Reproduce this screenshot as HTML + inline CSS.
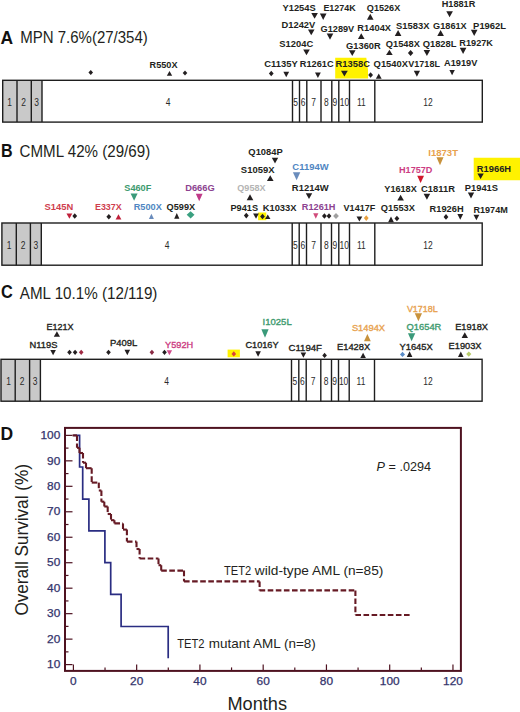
<!DOCTYPE html>
<html><head><meta charset="utf-8"><style>
html,body{margin:0;padding:0;background:#fff;}
body{width:520px;height:712px;overflow:hidden;}
svg{display:block;font-family:"Liberation Sans",sans-serif;}
.lb{font-size:9px;font-weight:bold;stroke-width:0;}
.lc{font-size:9px;stroke-width:0.35px;}
.ex{font-size:10.6px;fill:#2a2a2a;}
.tk{font-size:10.4px;fill:#34346c;stroke:#34346c;stroke-width:0.25px;}
.ttl{font-size:15.3px;fill:#231f20;}
.pl{font-size:17.5px;font-weight:bold;fill:#111;}
.cl{font-size:13.6px;fill:#231f20;}
</style></head><body>
<svg width="520" height="712" viewBox="0 0 520 712">
<rect x="0" y="0" width="520" height="712" fill="#fff"/>
<polygon points="335.2,57.8 366.3,57.8 368,70 368,78.5 335.2,78.5" fill="#fff200"/><polygon points="473.7,157.8 520,157.8 520,180.2 473.7,180.2" fill="#fff200"/><polygon points="258.1,212.5 266.3,212.5 266.3,220.2 258.1,220.2" fill="#fff200"/><polygon points="227.6,349.6 239.9,349.6 239.9,357.3 227.6,357.3" fill="#fff200"/>
<text x="0.6" y="43.5" class="pl" textLength="12.6" lengthAdjust="spacingAndGlyphs">A</text>
<text x="20.2" y="43.2" class="ttl" style="font-size:16.3px" textLength="127.6" lengthAdjust="spacingAndGlyphs">MPN 7.6%(27/354)</text>
<text x="1" y="156.5" class="pl" textLength="11.6" lengthAdjust="spacingAndGlyphs">B</text>
<text x="19.6" y="156.7" class="ttl" style="font-size:16.3px" textLength="130.6" lengthAdjust="spacingAndGlyphs">CMML 42% (29/69)</text>
<text x="1" y="298.3" class="pl" textLength="11.8" lengthAdjust="spacingAndGlyphs">C</text>
<text x="19.8" y="298.8" class="ttl" style="font-size:15.9px" textLength="137.6" lengthAdjust="spacingAndGlyphs">AML 10.1% (12/119)</text>
<rect x="2.7" y="80.3" width="39.3" height="41.8" fill="#c9c9c9"/>
<rect x="2.7" y="80.3" width="479.6" height="41.8" fill="none" stroke="#1e1e1e" stroke-width="1.4"/>
<line x1="17.0" y1="80.3" x2="17.0" y2="122.1" stroke="#1e1e1e" stroke-width="1.4"/>
<line x1="31.3" y1="80.3" x2="31.3" y2="122.1" stroke="#1e1e1e" stroke-width="1.4"/>
<line x1="42.0" y1="80.3" x2="42.0" y2="122.1" stroke="#1e1e1e" stroke-width="1.4"/>
<line x1="292.5" y1="80.3" x2="292.5" y2="122.1" stroke="#1e1e1e" stroke-width="1.4"/>
<line x1="299.5" y1="80.3" x2="299.5" y2="122.1" stroke="#1e1e1e" stroke-width="1.4"/>
<line x1="306.8" y1="80.3" x2="306.8" y2="122.1" stroke="#1e1e1e" stroke-width="1.4"/>
<line x1="321.0" y1="80.3" x2="321.0" y2="122.1" stroke="#1e1e1e" stroke-width="1.4"/>
<line x1="331.8" y1="80.3" x2="331.8" y2="122.1" stroke="#1e1e1e" stroke-width="1.4"/>
<line x1="338.8" y1="80.3" x2="338.8" y2="122.1" stroke="#1e1e1e" stroke-width="1.4"/>
<line x1="349.5" y1="80.3" x2="349.5" y2="122.1" stroke="#1e1e1e" stroke-width="1.4"/>
<line x1="374.8" y1="80.3" x2="374.8" y2="122.1" stroke="#1e1e1e" stroke-width="1.4"/>
<text transform="translate(9.6,106.0) scale(0.8,1)" text-anchor="middle" class="ex">1</text>
<text transform="translate(23.6,106.0) scale(0.8,1)" text-anchor="middle" class="ex">2</text>
<text transform="translate(36.5,106.0) scale(0.8,1)" text-anchor="middle" class="ex">3</text>
<text transform="translate(168.0,106.0) scale(0.8,1)" text-anchor="middle" class="ex">4</text>
<text transform="translate(295.6,106.0) scale(0.8,1)" text-anchor="middle" class="ex">5</text>
<text transform="translate(303.0,106.0) scale(0.8,1)" text-anchor="middle" class="ex">6</text>
<text transform="translate(313.6,106.0) scale(0.8,1)" text-anchor="middle" class="ex">7</text>
<text transform="translate(326.4,106.0) scale(0.8,1)" text-anchor="middle" class="ex">8</text>
<text transform="translate(334.9,106.0) scale(0.8,1)" text-anchor="middle" class="ex">9</text>
<text transform="translate(344.4,106.0) scale(0.8,1)" text-anchor="middle" class="ex">10</text>
<text transform="translate(361.4,106.0) scale(0.8,1)" text-anchor="middle" class="ex">11</text>
<text transform="translate(428.0,106.0) scale(0.8,1)" text-anchor="middle" class="ex">12</text>
<rect x="1.9" y="223.0" width="39.4" height="42.19999999999999" fill="#c9c9c9"/>
<rect x="1.9" y="223.0" width="480.3" height="42.19999999999999" fill="none" stroke="#1e1e1e" stroke-width="1.4"/>
<line x1="16.3" y1="223.0" x2="16.3" y2="265.2" stroke="#1e1e1e" stroke-width="1.4"/>
<line x1="30.4" y1="223.0" x2="30.4" y2="265.2" stroke="#1e1e1e" stroke-width="1.4"/>
<line x1="41.3" y1="223.0" x2="41.3" y2="265.2" stroke="#1e1e1e" stroke-width="1.4"/>
<line x1="292.2" y1="223.0" x2="292.2" y2="265.2" stroke="#1e1e1e" stroke-width="1.4"/>
<line x1="299.2" y1="223.0" x2="299.2" y2="265.2" stroke="#1e1e1e" stroke-width="1.4"/>
<line x1="306.5" y1="223.0" x2="306.5" y2="265.2" stroke="#1e1e1e" stroke-width="1.4"/>
<line x1="321.0" y1="223.0" x2="321.0" y2="265.2" stroke="#1e1e1e" stroke-width="1.4"/>
<line x1="331.5" y1="223.0" x2="331.5" y2="265.2" stroke="#1e1e1e" stroke-width="1.4"/>
<line x1="338.8" y1="223.0" x2="338.8" y2="265.2" stroke="#1e1e1e" stroke-width="1.4"/>
<line x1="349.5" y1="223.0" x2="349.5" y2="265.2" stroke="#1e1e1e" stroke-width="1.4"/>
<line x1="374.8" y1="223.0" x2="374.8" y2="265.2" stroke="#1e1e1e" stroke-width="1.4"/>
<text transform="translate(9.1,248.8) scale(0.8,1)" text-anchor="middle" class="ex">1</text>
<text transform="translate(23.1,248.8) scale(0.8,1)" text-anchor="middle" class="ex">2</text>
<text transform="translate(35.8,248.8) scale(0.8,1)" text-anchor="middle" class="ex">3</text>
<text transform="translate(167.0,248.8) scale(0.8,1)" text-anchor="middle" class="ex">4</text>
<text transform="translate(295.4,248.8) scale(0.8,1)" text-anchor="middle" class="ex">5</text>
<text transform="translate(302.8,248.8) scale(0.8,1)" text-anchor="middle" class="ex">6</text>
<text transform="translate(313.5,248.8) scale(0.8,1)" text-anchor="middle" class="ex">7</text>
<text transform="translate(326.3,248.8) scale(0.8,1)" text-anchor="middle" class="ex">8</text>
<text transform="translate(334.8,248.8) scale(0.8,1)" text-anchor="middle" class="ex">9</text>
<text transform="translate(344.3,248.8) scale(0.8,1)" text-anchor="middle" class="ex">10</text>
<text transform="translate(361.3,248.8) scale(0.8,1)" text-anchor="middle" class="ex">11</text>
<text transform="translate(428.0,248.8) scale(0.8,1)" text-anchor="middle" class="ex">12</text>
<rect x="1.0" y="359.3" width="39.4" height="41.89999999999998" fill="#c9c9c9"/>
<rect x="1.0" y="359.3" width="481.1" height="41.89999999999998" fill="none" stroke="#1e1e1e" stroke-width="1.4"/>
<line x1="15.2" y1="359.3" x2="15.2" y2="401.2" stroke="#1e1e1e" stroke-width="1.4"/>
<line x1="29.6" y1="359.3" x2="29.6" y2="401.2" stroke="#1e1e1e" stroke-width="1.4"/>
<line x1="40.4" y1="359.3" x2="40.4" y2="401.2" stroke="#1e1e1e" stroke-width="1.4"/>
<line x1="291.5" y1="359.3" x2="291.5" y2="401.2" stroke="#1e1e1e" stroke-width="1.4"/>
<line x1="298.8" y1="359.3" x2="298.8" y2="401.2" stroke="#1e1e1e" stroke-width="1.4"/>
<line x1="306.2" y1="359.3" x2="306.2" y2="401.2" stroke="#1e1e1e" stroke-width="1.4"/>
<line x1="320.8" y1="359.3" x2="320.8" y2="401.2" stroke="#1e1e1e" stroke-width="1.4"/>
<line x1="331.5" y1="359.3" x2="331.5" y2="401.2" stroke="#1e1e1e" stroke-width="1.4"/>
<line x1="338.5" y1="359.3" x2="338.5" y2="401.2" stroke="#1e1e1e" stroke-width="1.4"/>
<line x1="349.2" y1="359.3" x2="349.2" y2="401.2" stroke="#1e1e1e" stroke-width="1.4"/>
<line x1="374.5" y1="359.3" x2="374.5" y2="401.2" stroke="#1e1e1e" stroke-width="1.4"/>
<text transform="translate(8.5,384.9) scale(0.8,1)" text-anchor="middle" class="ex">1</text>
<text transform="translate(22.1,384.9) scale(0.8,1)" text-anchor="middle" class="ex">2</text>
<text transform="translate(35.1,384.9) scale(0.8,1)" text-anchor="middle" class="ex">3</text>
<text transform="translate(166.5,384.9) scale(0.8,1)" text-anchor="middle" class="ex">4</text>
<text transform="translate(294.8,384.9) scale(0.8,1)" text-anchor="middle" class="ex">5</text>
<text transform="translate(302.3,384.9) scale(0.8,1)" text-anchor="middle" class="ex">6</text>
<text transform="translate(313.2,384.9) scale(0.8,1)" text-anchor="middle" class="ex">7</text>
<text transform="translate(326.1,384.9) scale(0.8,1)" text-anchor="middle" class="ex">8</text>
<text transform="translate(334.6,384.9) scale(0.8,1)" text-anchor="middle" class="ex">9</text>
<text transform="translate(343.6,384.9) scale(0.8,1)" text-anchor="middle" class="ex">10</text>
<text transform="translate(361.0,384.9) scale(0.8,1)" text-anchor="middle" class="ex">11</text>
<text transform="translate(428.0,384.9) scale(0.8,1)" text-anchor="middle" class="ex">12</text>
<text x="441.70" y="7.30" fill="#231f20" stroke="#231f20" class="lb" textLength="33.60" lengthAdjust="spacingAndGlyphs">H1881R</text>
<text x="282.50" y="10.60" fill="#231f20" stroke="#231f20" class="lb" textLength="33.20" lengthAdjust="spacingAndGlyphs">Y1254S</text>
<text x="323.40" y="10.60" fill="#231f20" stroke="#231f20" class="lb" textLength="32.30" lengthAdjust="spacingAndGlyphs">E1274K</text>
<text x="366.85" y="10.60" fill="#231f20" stroke="#231f20" class="lb" textLength="33.40" lengthAdjust="spacingAndGlyphs">Q1526X</text>
<text x="281.50" y="27.50" fill="#231f20" stroke="#231f20" class="lb" textLength="33.75" lengthAdjust="spacingAndGlyphs">D1242V</text>
<text x="320.60" y="31.50" fill="#231f20" stroke="#231f20" class="lb" textLength="33.65" lengthAdjust="spacingAndGlyphs">G1289V</text>
<text x="357.35" y="30.50" fill="#231f20" stroke="#231f20" class="lb" textLength="33.75" lengthAdjust="spacingAndGlyphs">R1404X</text>
<text x="396.10" y="28.75" fill="#231f20" stroke="#231f20" class="lb" textLength="33.40" lengthAdjust="spacingAndGlyphs">S1583X</text>
<text x="433.10" y="28.75" fill="#231f20" stroke="#231f20" class="lb" textLength="33.60" lengthAdjust="spacingAndGlyphs">G1861X</text>
<text x="473.10" y="28.80" fill="#231f20" stroke="#231f20" class="lb" textLength="33.00" lengthAdjust="spacingAndGlyphs">P1962L</text>
<text x="279.35" y="46.90" fill="#231f20" stroke="#231f20" class="lb" textLength="33.90" lengthAdjust="spacingAndGlyphs">S1204C</text>
<text x="346.10" y="48.75" fill="#231f20" stroke="#231f20" class="lb" textLength="34.65" lengthAdjust="spacingAndGlyphs">G1360R</text>
<text x="385.85" y="46.60" fill="#231f20" stroke="#231f20" class="lb" textLength="34.00" lengthAdjust="spacingAndGlyphs">Q1548X</text>
<text x="422.70" y="46.60" fill="#231f20" stroke="#231f20" class="lb" textLength="33.80" lengthAdjust="spacingAndGlyphs">Q1828L</text>
<text x="459.35" y="46.25" fill="#231f20" stroke="#231f20" class="lb" textLength="33.65" lengthAdjust="spacingAndGlyphs">R1927K</text>
<text x="264.35" y="66.90" fill="#231f20" stroke="#231f20" class="lb" textLength="33.40" lengthAdjust="spacingAndGlyphs">C1135Y</text>
<text x="299.85" y="66.90" fill="#231f20" stroke="#231f20" class="lb" textLength="33.75" lengthAdjust="spacingAndGlyphs">R1261C</text>
<text x="335.60" y="67.00" fill="#231f20" stroke="#231f20" class="lb" textLength="34.30" lengthAdjust="spacingAndGlyphs">R1358C</text>
<text x="373.60" y="67.00" fill="#231f20" stroke="#231f20" class="lb" textLength="34.40" lengthAdjust="spacingAndGlyphs">Q1540X</text>
<text x="408.35" y="66.90" fill="#231f20" stroke="#231f20" class="lb" textLength="31.55" lengthAdjust="spacingAndGlyphs">V1718L</text>
<text x="444.00" y="66.25" fill="#231f20" stroke="#231f20" class="lb" textLength="33.40" lengthAdjust="spacingAndGlyphs">A1919V</text>
<text x="149.60" y="68.00" fill="#231f20" stroke="#231f20" class="lb" textLength="27.90" lengthAdjust="spacingAndGlyphs">R550X</text>
<text x="248.35" y="155.00" fill="#231f20" stroke="#231f20" class="lb" textLength="34.40" lengthAdjust="spacingAndGlyphs">Q1084P</text>
<text x="428.35" y="156.00" fill="#e8a24e" stroke="#e8a24e" class="lb" textLength="29.65" lengthAdjust="spacingAndGlyphs">I1873T</text>
<text x="292.35" y="170.00" fill="#4f86c2" stroke="#4f86c2" class="lb" textLength="36.25" lengthAdjust="spacingAndGlyphs">C1194W</text>
<text x="240.85" y="172.75" fill="#231f20" stroke="#231f20" class="lb" textLength="33.65" lengthAdjust="spacingAndGlyphs">S1059X</text>
<text x="476.85" y="172.25" fill="#231f20" stroke="#231f20" class="lb" textLength="34.25" lengthAdjust="spacingAndGlyphs">R1966H</text>
<text x="399.00" y="173.10" fill="#cc3c82" stroke="#cc3c82" class="lb" textLength="33.40" lengthAdjust="spacingAndGlyphs">H1757D</text>
<text x="124.30" y="190.50" fill="#3d9a6e" stroke="#3d9a6e" class="lb" textLength="27.00" lengthAdjust="spacingAndGlyphs">S460F</text>
<text x="185.20" y="191.40" fill="#8c4290" stroke="#8c4290" class="lb" textLength="29.50" lengthAdjust="spacingAndGlyphs">D666G</text>
<text x="237.35" y="191.25" fill="#b4b4b4" stroke="#b4b4b4" class="lb" textLength="28.15" lengthAdjust="spacingAndGlyphs">Q958X</text>
<text x="291.85" y="191.00" fill="#231f20" stroke="#231f20" class="lb" textLength="36.75" lengthAdjust="spacingAndGlyphs">R1214W</text>
<text x="384.35" y="191.90" fill="#231f20" stroke="#231f20" class="lb" textLength="32.40" lengthAdjust="spacingAndGlyphs">Y1618X</text>
<text x="421.10" y="191.50" fill="#231f20" stroke="#231f20" class="lb" textLength="33.80" lengthAdjust="spacingAndGlyphs">C1811R</text>
<text x="464.80" y="191.30" fill="#231f20" stroke="#231f20" class="lb" textLength="33.20" lengthAdjust="spacingAndGlyphs">P1941S</text>
<text x="44.60" y="210.00" fill="#cf3e4e" stroke="#cf3e4e" class="lb" textLength="28.65" lengthAdjust="spacingAndGlyphs">S145N</text>
<text x="95.00" y="209.70" fill="#cf3e4e" stroke="#cf3e4e" class="lb" textLength="26.70" lengthAdjust="spacingAndGlyphs">E337X</text>
<text x="133.70" y="209.80" fill="#4f86c2" stroke="#4f86c2" class="lb" textLength="28.10" lengthAdjust="spacingAndGlyphs">R500X</text>
<text x="166.60" y="210.00" fill="#231f20" stroke="#231f20" class="lb" textLength="28.50" lengthAdjust="spacingAndGlyphs">Q599X</text>
<text x="230.50" y="211.30" fill="#231f20" stroke="#231f20" class="lb" textLength="27.50" lengthAdjust="spacingAndGlyphs">P941S</text>
<text x="262.70" y="210.60" fill="#231f20" stroke="#231f20" class="lb" textLength="33.80" lengthAdjust="spacingAndGlyphs">K1033X</text>
<text x="301.85" y="210.00" fill="#8c4290" stroke="#8c4290" class="lb" textLength="33.65" lengthAdjust="spacingAndGlyphs">R1261H</text>
<text x="343.60" y="210.60" fill="#231f20" stroke="#231f20" class="lb" textLength="31.65" lengthAdjust="spacingAndGlyphs">V1417F</text>
<text x="380.85" y="211.00" fill="#231f20" stroke="#231f20" class="lb" textLength="34.05" lengthAdjust="spacingAndGlyphs">Q1553X</text>
<text x="429.60" y="211.90" fill="#231f20" stroke="#231f20" class="lb" textLength="34.00" lengthAdjust="spacingAndGlyphs">R1926H</text>
<text x="473.40" y="212.90" fill="#231f20" stroke="#231f20" class="lb" textLength="34.40" lengthAdjust="spacingAndGlyphs">R1974M</text>
<text x="406.90" y="311.50" fill="#e8a24e" stroke="#e8a24e" class="lc" textLength="30.90" lengthAdjust="spacingAndGlyphs">V1718L</text>
<text x="262.60" y="325.30" fill="#3d9a6e" stroke="#3d9a6e" class="lc" textLength="29.10" lengthAdjust="spacingAndGlyphs">I1025L</text>
<text x="351.90" y="330.80" fill="#e8a24e" stroke="#e8a24e" class="lc" textLength="33.20" lengthAdjust="spacingAndGlyphs">S1494X</text>
<text x="406.60" y="330.00" fill="#3d9a6e" stroke="#3d9a6e" class="lc" textLength="34.70" lengthAdjust="spacingAndGlyphs">Q1654R</text>
<text x="455.20" y="329.80" fill="#231f20" stroke="#231f20" class="lc" textLength="32.80" lengthAdjust="spacingAndGlyphs">E1918X</text>
<text x="46.50" y="329.70" fill="#231f20" stroke="#231f20" class="lc" textLength="27.10" lengthAdjust="spacingAndGlyphs">E121X</text>
<text x="29.60" y="347.70" fill="#231f20" stroke="#231f20" class="lc" textLength="27.80" lengthAdjust="spacingAndGlyphs">N119S</text>
<text x="110.00" y="346.20" fill="#231f20" stroke="#231f20" class="lc" textLength="27.30" lengthAdjust="spacingAndGlyphs">P409L</text>
<text x="165.10" y="347.70" fill="#cc3c82" stroke="#cc3c82" class="lc" textLength="28.10" lengthAdjust="spacingAndGlyphs">Y592H</text>
<text x="245.40" y="348.40" fill="#231f20" stroke="#231f20" class="lc" textLength="33.20" lengthAdjust="spacingAndGlyphs">C1016Y</text>
<text x="288.50" y="350.80" fill="#231f20" stroke="#231f20" class="lc" textLength="33.50" lengthAdjust="spacingAndGlyphs">C1194F</text>
<text x="337.00" y="350.00" fill="#231f20" stroke="#231f20" class="lc" textLength="33.20" lengthAdjust="spacingAndGlyphs">E1428X</text>
<text x="399.50" y="349.50" fill="#231f20" stroke="#231f20" class="lc" textLength="33.20" lengthAdjust="spacingAndGlyphs">Y1645X</text>
<text x="448.60" y="348.70" fill="#231f20" stroke="#231f20" class="lc" textLength="32.90" lengthAdjust="spacingAndGlyphs">E1903X</text>
<polygon points="311.30,12.95 317.90,12.95 314.60,18.85" fill="#231f20"/>
<polygon points="319.90,13.45 326.50,13.45 323.20,19.95" fill="#231f20"/>
<polygon points="366.95,19.75 373.55,19.75 370.25,13.65" fill="#231f20"/>
<polygon points="446.30,11.15 452.90,11.15 449.60,17.35" fill="#231f20"/>
<polygon points="307.95,29.40 314.55,29.40 311.25,35.35" fill="#231f20"/>
<polygon points="326.70,33.40 333.30,33.40 330.00,39.75" fill="#231f20"/>
<polygon points="357.95,39.10 364.55,39.10 361.25,33.15" fill="#231f20"/>
<polygon points="394.80,35.95 401.40,35.95 398.10,29.90" fill="#231f20"/>
<polygon points="437.30,35.95 443.90,35.95 440.60,29.90" fill="#231f20"/>
<polygon points="470.90,29.65 477.50,29.65 474.20,35.95" fill="#231f20"/>
<polygon points="303.20,49.40 309.80,49.40 306.50,55.35" fill="#231f20"/>
<polygon points="348.95,50.25 355.55,50.25 352.25,55.95" fill="#231f20"/>
<polygon points="386.10,55.10 392.70,55.10 389.40,49.65" fill="#231f20"/>
<polygon points="407.90,53.10 410.60,50.10 413.30,53.10 410.60,56.10" fill="#231f20"/>
<polygon points="423.60,49.95 430.20,49.95 426.90,55.95" fill="#231f20"/>
<polygon points="459.80,47.75 466.40,47.75 463.10,54.10" fill="#231f20"/>
<polygon points="268.85,73.50 271.25,70.70 273.65,73.50 271.25,76.30" fill="#231f20"/>
<polygon points="283.35,71.65 289.15,71.65 286.25,77.35" fill="#231f20"/>
<polygon points="315.00,72.40 320.80,72.40 317.90,78.10" fill="#231f20"/>
<polygon points="341.00,70.65 347.80,70.65 344.40,76.60" fill="#231f20"/>
<polygon points="368.20,75.00 370.60,72.20 373.00,75.00 370.60,77.80" fill="#231f20"/>
<polygon points="375.85,78.85 381.65,78.85 378.75,73.40" fill="#231f20"/>
<polygon points="413.80,70.65 420.00,70.65 416.90,76.85" fill="#231f20"/>
<polygon points="449.40,69.90 454.80,69.90 452.10,75.35" fill="#231f20"/>
<polygon points="166.80,75.85 172.20,75.85 169.50,70.90" fill="#231f20"/>
<polygon points="182.70,73.00 185.00,70.40 187.30,73.00 185.00,75.60" fill="#231f20"/>
<polygon points="88.45,72.50 90.75,69.90 93.05,72.50 90.75,75.10" fill="#231f20"/>
<polygon points="271.80,157.75 278.20,157.75 275.00,163.45" fill="#231f20"/>
<polygon points="436.45,157.15 443.55,157.15 440.00,165.35" fill="#c8923c"/>
<polygon points="266.95,180.95 273.55,180.95 270.25,175.25" fill="#231f20"/>
<polygon points="292.90,172.25 300.30,172.25 296.60,180.35" fill="#6a8cbc"/>
<polygon points="477.40,173.40 483.80,173.40 480.60,179.10" fill="#231f20"/>
<polygon points="417.20,175.65 424.00,175.65 420.60,183.10" fill="#d0182c"/>
<polygon points="130.60,193.45 137.60,193.45 134.10,200.65" fill="#3a9a7a"/>
<polygon points="195.80,193.65 202.60,193.65 199.20,201.25" fill="#c03a88"/>
<polygon points="246.70,200.35 253.30,200.35 250.00,194.25" fill="#231f20"/>
<polygon points="305.80,193.15 312.20,193.15 309.00,199.10" fill="#231f20"/>
<polygon points="397.30,200.60 403.90,200.60 400.60,194.65" fill="#231f20"/>
<polygon points="423.60,193.85 430.20,193.85 426.90,199.75" fill="#231f20"/>
<polygon points="467.80,192.55 474.20,192.55 471.00,198.55" fill="#231f20"/>
<polygon points="66.50,213.40 72.30,213.40 69.40,218.85" fill="#c0203a"/>
<polygon points="72.35,216.00 74.75,213.20 77.15,216.00 74.75,218.80" fill="#231f20"/>
<polygon points="106.40,216.70 108.80,213.90 111.20,216.70 108.80,219.50" fill="#231f20"/>
<polygon points="115.60,219.45 121.40,219.45 118.50,214.35" fill="#c0203a"/>
<polygon points="148.90,219.05 153.90,219.05 151.40,213.65" fill="#6a8cbc"/>
<polygon points="174.20,218.65 179.40,218.65 176.80,213.05" fill="#231f20"/>
<polygon points="186.70,214.80 190.60,211.20 194.50,214.80 190.60,218.40" fill="#3aa080"/>
<polygon points="243.90,215.60 246.30,212.80 248.70,215.60 246.30,218.40" fill="#231f20"/>
<polygon points="253.10,213.40 258.90,213.40 256.00,218.85" fill="#231f20"/>
<polygon points="260.10,216.50 262.50,213.70 264.90,216.50 262.50,219.30" fill="#231f20"/>
<polygon points="265.05,219.10 270.45,219.10 267.75,214.40" fill="#231f20"/>
<polygon points="313.20,213.25 318.40,213.25 315.80,218.75" fill="#d04a7a"/>
<polygon points="322.00,216.00 324.40,213.20 326.80,216.00 324.40,218.80" fill="#231f20"/>
<polygon points="326.60,216.00 329.00,213.20 331.40,216.00 329.00,218.80" fill="#231f20"/>
<polygon points="333.10,216.00 336.00,212.90 338.90,216.00 336.00,219.10" fill="#a0a0a0"/>
<polygon points="356.50,216.55 362.30,216.55 359.40,221.60" fill="#231f20"/>
<polygon points="363.85,218.10 366.25,215.30 368.65,218.10 366.25,220.90" fill="#e8a040"/>
<polygon points="388.10,222.25 393.90,222.25 391.00,216.55" fill="#231f20"/>
<polygon points="394.50,218.50 396.90,215.70 399.30,218.50 396.90,221.30" fill="#231f20"/>
<polygon points="443.60,216.90 446.00,214.10 448.40,216.90 446.00,219.70" fill="#231f20"/>
<polygon points="457.35,214.05 463.15,214.05 460.25,219.75" fill="#231f20"/>
<polygon points="473.50,214.85 479.30,214.85 476.40,220.15" fill="#231f20"/>
<polygon points="414.75,313.15 422.05,313.15 418.40,321.15" fill="#c8923c"/>
<polygon points="261.35,329.25 268.65,329.25 265.00,337.65" fill="#3a9a7a"/>
<polygon points="364.00,341.15 370.80,341.15 367.40,333.95" fill="#c8923c"/>
<polygon points="407.95,333.15 415.25,333.15 411.60,341.15" fill="#3a9a7a"/>
<polygon points="461.60,338.05 468.00,338.05 464.80,332.15" fill="#231f20"/>
<polygon points="53.80,336.85 60.00,336.85 56.90,331.15" fill="#231f20"/>
<polygon points="50.30,349.95 55.90,349.95 53.10,355.25" fill="#231f20"/>
<polygon points="67.20,352.30 69.50,349.70 71.80,352.30 69.50,354.90" fill="#231f20"/>
<polygon points="72.80,352.30 75.10,349.70 77.40,352.30 75.10,354.90" fill="#231f20"/>
<polygon points="78.90,352.30 81.20,349.70 83.50,352.30 81.20,354.90" fill="#a02a44"/>
<polygon points="106.20,352.30 108.50,349.70 110.80,352.30 108.50,354.90" fill="#231f20"/>
<polygon points="124.50,349.65 130.10,349.65 127.30,355.35" fill="#231f20"/>
<polygon points="149.60,352.30 151.90,349.70 154.20,352.30 151.90,354.90" fill="#8a2a44"/>
<polygon points="162.20,352.30 164.50,349.70 166.80,352.30 164.50,354.90" fill="#231f20"/>
<polygon points="166.70,350.25 172.10,350.25 169.40,355.15" fill="#d04a8a"/>
<polygon points="231.50,353.90 233.80,351.30 236.10,353.90 233.80,356.50" fill="#d8403a"/>
<polygon points="255.30,351.15 260.90,351.15 258.10,356.85" fill="#231f20"/>
<polygon points="300.60,352.45 306.20,352.45 303.40,357.75" fill="#231f20"/>
<polygon points="322.30,355.40 324.60,352.80 326.90,355.40 324.60,358.00" fill="#231f20"/>
<polygon points="360.30,358.05 365.90,358.05 363.10,352.75" fill="#231f20"/>
<polygon points="400.00,354.40 402.50,351.70 405.00,354.40 402.50,357.10" fill="#5a8cc8"/>
<polygon points="406.80,356.95 412.40,356.95 409.60,351.15" fill="#231f20"/>
<polygon points="458.00,357.05 463.60,357.05 460.80,351.45" fill="#231f20"/>
<polygon points="466.20,354.10 468.80,351.40 471.40,354.10 468.80,356.80" fill="#b8cc6a"/>
<text x="0.5" y="439.7" class="pl">D</text>
<line x1="65.0" y1="664.60" x2="72.5" y2="664.60" stroke="#4e1220" stroke-width="1.2"/>
<line x1="65.0" y1="651.87" x2="68.5" y2="651.87" stroke="#4e1220" stroke-width="1.2"/>
<line x1="65.0" y1="639.13" x2="72.5" y2="639.13" stroke="#4e1220" stroke-width="1.2"/>
<line x1="65.0" y1="626.39" x2="68.5" y2="626.39" stroke="#4e1220" stroke-width="1.2"/>
<line x1="65.0" y1="613.66" x2="72.5" y2="613.66" stroke="#4e1220" stroke-width="1.2"/>
<line x1="65.0" y1="600.93" x2="68.5" y2="600.93" stroke="#4e1220" stroke-width="1.2"/>
<line x1="65.0" y1="588.19" x2="72.5" y2="588.19" stroke="#4e1220" stroke-width="1.2"/>
<line x1="65.0" y1="575.46" x2="68.5" y2="575.46" stroke="#4e1220" stroke-width="1.2"/>
<line x1="65.0" y1="562.72" x2="72.5" y2="562.72" stroke="#4e1220" stroke-width="1.2"/>
<line x1="65.0" y1="549.99" x2="68.5" y2="549.99" stroke="#4e1220" stroke-width="1.2"/>
<line x1="65.0" y1="537.25" x2="72.5" y2="537.25" stroke="#4e1220" stroke-width="1.2"/>
<line x1="65.0" y1="524.51" x2="68.5" y2="524.51" stroke="#4e1220" stroke-width="1.2"/>
<line x1="65.0" y1="511.78" x2="72.5" y2="511.78" stroke="#4e1220" stroke-width="1.2"/>
<line x1="65.0" y1="499.05" x2="68.5" y2="499.05" stroke="#4e1220" stroke-width="1.2"/>
<line x1="65.0" y1="486.31" x2="72.5" y2="486.31" stroke="#4e1220" stroke-width="1.2"/>
<line x1="65.0" y1="473.58" x2="68.5" y2="473.58" stroke="#4e1220" stroke-width="1.2"/>
<line x1="65.0" y1="460.84" x2="72.5" y2="460.84" stroke="#4e1220" stroke-width="1.2"/>
<line x1="65.0" y1="448.11" x2="68.5" y2="448.11" stroke="#4e1220" stroke-width="1.2"/>
<line x1="65.0" y1="435.37" x2="72.5" y2="435.37" stroke="#4e1220" stroke-width="1.2"/>
<line x1="73.40" y1="670.9" x2="73.40" y2="664.4" stroke="#4e1220" stroke-width="1.2"/>
<line x1="105.03" y1="670.9" x2="105.03" y2="667.4" stroke="#4e1220" stroke-width="1.2"/>
<line x1="136.66" y1="670.9" x2="136.66" y2="664.4" stroke="#4e1220" stroke-width="1.2"/>
<line x1="168.29" y1="670.9" x2="168.29" y2="667.4" stroke="#4e1220" stroke-width="1.2"/>
<line x1="199.92" y1="670.9" x2="199.92" y2="664.4" stroke="#4e1220" stroke-width="1.2"/>
<line x1="231.55" y1="670.9" x2="231.55" y2="667.4" stroke="#4e1220" stroke-width="1.2"/>
<line x1="263.18" y1="670.9" x2="263.18" y2="664.4" stroke="#4e1220" stroke-width="1.2"/>
<line x1="294.81" y1="670.9" x2="294.81" y2="667.4" stroke="#4e1220" stroke-width="1.2"/>
<line x1="326.44" y1="670.9" x2="326.44" y2="664.4" stroke="#4e1220" stroke-width="1.2"/>
<line x1="358.07" y1="670.9" x2="358.07" y2="667.4" stroke="#4e1220" stroke-width="1.2"/>
<line x1="389.70" y1="670.9" x2="389.70" y2="664.4" stroke="#4e1220" stroke-width="1.2"/>
<line x1="421.33" y1="670.9" x2="421.33" y2="667.4" stroke="#4e1220" stroke-width="1.2"/>
<line x1="452.96" y1="670.9" x2="452.96" y2="664.4" stroke="#4e1220" stroke-width="1.2"/>
<path d="M73.4,435.4 H79.6 V467.0 H82.7 V499.1 H88.9 V530.8 H104.9 V562.7 H110.7 V594.4 H121.1 V626.5 H168.2 V658.2" fill="none" stroke="#2a2d82" stroke-width="1.7"/>
<path d="M72.6,435.4 L77,435.4" fill="none" stroke="#661a24" stroke-width="2.1"/>
<path d="M77,435.4 L77,447.8" fill="none" stroke="#661a24" stroke-width="2.1" stroke-dasharray="5.6 2.5"/>
<path d="M77,447.8 L79.5,447.8" fill="none" stroke="#661a24" stroke-width="2.1" stroke-dasharray="5.6 2.5"/>
<path d="M79.5,447.8 L79.5,453" fill="none" stroke="#661a24" stroke-width="2.1" stroke-dasharray="5.6 2.5"/>
<path d="M79.5,453 L83,453" fill="none" stroke="#661a24" stroke-width="2.1" stroke-dasharray="5.6 2.5"/>
<path d="M83,453 L83,462.7" fill="none" stroke="#661a24" stroke-width="2.1" stroke-dasharray="5.6 2.5"/>
<path d="M83,462.7 L86,462.7" fill="none" stroke="#661a24" stroke-width="2.1" stroke-dasharray="5.6 2.5"/>
<path d="M86,462.7 L86,468.2" fill="none" stroke="#661a24" stroke-width="2.1" stroke-dasharray="5.6 2.5"/>
<path d="M86,468.2 L91.7,468.2" fill="none" stroke="#661a24" stroke-width="2.1" stroke-dasharray="5.6 2.5"/>
<path d="M91.7,468.2 L91.7,482.6" fill="none" stroke="#661a24" stroke-width="2.1" stroke-dasharray="5.6 2.5"/>
<path d="M91.7,482.6 L98.8,482.6" fill="none" stroke="#661a24" stroke-width="2.1" stroke-dasharray="5.6 2.5"/>
<path d="M98.8,482.6 L98.8,490.5" fill="none" stroke="#661a24" stroke-width="2.1" stroke-dasharray="5.6 2.5"/>
<path d="M98.8,490.5 L101.4,490.5" fill="none" stroke="#661a24" stroke-width="2.1" stroke-dasharray="5.6 2.5"/>
<path d="M101.4,490.5 L101.4,501.7" fill="none" stroke="#661a24" stroke-width="2.1" stroke-dasharray="5.6 2.5"/>
<path d="M101.4,501.7 L104.3,501.7" fill="none" stroke="#661a24" stroke-width="2.1" stroke-dasharray="5.6 2.5"/>
<path d="M104.3,501.7 L104.3,506.5" fill="none" stroke="#661a24" stroke-width="2.1" stroke-dasharray="5.6 2.5"/>
<path d="M104.3,506.5 L107.7,506.5" fill="none" stroke="#661a24" stroke-width="2.1" stroke-dasharray="5.6 2.5"/>
<path d="M107.7,506.5 L107.7,514" fill="none" stroke="#661a24" stroke-width="2.1" stroke-dasharray="5.6 2.5"/>
<path d="M107.7,514 L111,514" fill="none" stroke="#661a24" stroke-width="2.1" stroke-dasharray="5.6 2.5"/>
<path d="M111,514 L111,520.2" fill="none" stroke="#661a24" stroke-width="2.1" stroke-dasharray="5.6 2.5"/>
<path d="M111,520.2 L114.4,520.2" fill="none" stroke="#661a24" stroke-width="2.1" stroke-dasharray="5.6 2.5"/>
<path d="M114.4,520.2 L114.4,523.4" fill="none" stroke="#661a24" stroke-width="2.1" stroke-dasharray="5.6 2.5"/>
<path d="M114.4,523.4 L123,523.4" fill="none" stroke="#661a24" stroke-width="2.1" stroke-dasharray="5.6 2.5"/>
<path d="M123,523.4 L123,529.6" fill="none" stroke="#661a24" stroke-width="2.1" stroke-dasharray="5.6 2.5"/>
<path d="M123,529.6 L126.9,529.6" fill="none" stroke="#661a24" stroke-width="2.1" stroke-dasharray="5.6 2.5"/>
<path d="M126.9,529.6 L126.9,541.6" fill="none" stroke="#661a24" stroke-width="2.1" stroke-dasharray="5.6 2.5"/>
<path d="M126.9,541.6 L136.5,541.6" fill="none" stroke="#661a24" stroke-width="2.1" stroke-dasharray="5.6 2.5"/>
<path d="M136.5,541.6 L136.5,549" fill="none" stroke="#661a24" stroke-width="2.1" stroke-dasharray="5.6 2.5"/>
<path d="M136.5,549 L139.6,549" fill="none" stroke="#661a24" stroke-width="2.1" stroke-dasharray="5.6 2.5"/>
<path d="M139.6,549 L139.6,558.5" fill="none" stroke="#661a24" stroke-width="2.1" stroke-dasharray="5.6 2.5"/>
<path d="M139.6,558.5 L158.5,558.5" fill="none" stroke="#661a24" stroke-width="2.1" stroke-dasharray="5.6 2.5"/>
<path d="M158.5,558.5 L158.5,565.2" fill="none" stroke="#661a24" stroke-width="2.1" stroke-dasharray="5.6 2.5"/>
<path d="M158.5,565.2 L161.2,565.2" fill="none" stroke="#661a24" stroke-width="2.1" stroke-dasharray="5.6 2.5"/>
<path d="M161.2,565.2 L161.2,570.6" fill="none" stroke="#661a24" stroke-width="2.1" stroke-dasharray="5.6 2.5"/>
<path d="M161.2,570.6 L184,570.6" fill="none" stroke="#661a24" stroke-width="2.1" stroke-dasharray="5.6 2.5"/>
<path d="M184,570.6 L184,581.4" fill="none" stroke="#661a24" stroke-width="2.1" stroke-dasharray="5.6 2.5"/>
<path d="M184,581.4 L259.6,581.4" fill="none" stroke="#661a24" stroke-width="2.1" stroke-dasharray="5.6 2.5"/>
<path d="M259.6,581.4 L259.6,590.4" fill="none" stroke="#661a24" stroke-width="2.1" stroke-dasharray="5.6 2.5"/>
<path d="M259.6,590.4 L355.4,590.4" fill="none" stroke="#661a24" stroke-width="2.1" stroke-dasharray="5.6 2.5"/>
<path d="M355.4,590.4 L355.4,615" fill="none" stroke="#661a24" stroke-width="2.1" stroke-dasharray="5.6 2.5"/>
<path d="M355.4,615 L410.7,615" fill="none" stroke="#661a24" stroke-width="2.1" stroke-dasharray="5.6 2.5"/>
<rect x="65.0" y="427.9" width="395.9" height="243.0" fill="none" stroke="#4e1220" stroke-width="2"/>
<text x="47.10" y="668.30" class="tk" textLength="13.2" lengthAdjust="spacingAndGlyphs">10</text>
<text x="47.10" y="642.83" class="tk" textLength="13.2" lengthAdjust="spacingAndGlyphs">20</text>
<text x="47.10" y="617.36" class="tk" textLength="13.2" lengthAdjust="spacingAndGlyphs">30</text>
<text x="47.10" y="591.89" class="tk" textLength="13.2" lengthAdjust="spacingAndGlyphs">40</text>
<text x="47.10" y="566.42" class="tk" textLength="13.2" lengthAdjust="spacingAndGlyphs">50</text>
<text x="47.10" y="540.95" class="tk" textLength="13.2" lengthAdjust="spacingAndGlyphs">60</text>
<text x="47.10" y="515.48" class="tk" textLength="13.2" lengthAdjust="spacingAndGlyphs">70</text>
<text x="47.10" y="490.01" class="tk" textLength="13.2" lengthAdjust="spacingAndGlyphs">80</text>
<text x="47.10" y="464.54" class="tk" textLength="13.2" lengthAdjust="spacingAndGlyphs">90</text>
<text x="40.50" y="439.07" class="tk" textLength="19.8" lengthAdjust="spacingAndGlyphs">100</text>
<text x="70.10" y="685.2" class="tk" textLength="6.6" lengthAdjust="spacingAndGlyphs">0</text>
<text x="130.06" y="685.2" class="tk" textLength="13.2" lengthAdjust="spacingAndGlyphs">20</text>
<text x="193.32" y="685.2" class="tk" textLength="13.2" lengthAdjust="spacingAndGlyphs">40</text>
<text x="256.58" y="685.2" class="tk" textLength="13.2" lengthAdjust="spacingAndGlyphs">60</text>
<text x="319.84" y="685.2" class="tk" textLength="13.2" lengthAdjust="spacingAndGlyphs">80</text>
<text x="379.80" y="685.2" class="tk" textLength="19.8" lengthAdjust="spacingAndGlyphs">100</text>
<text x="443.06" y="685.2" class="tk" textLength="19.8" lengthAdjust="spacingAndGlyphs">120</text>
<text x="0" y="0" class="ylab" transform="translate(28.3,615.6) rotate(-90)" textLength="151.5" lengthAdjust="spacingAndGlyphs" style="font-size:19px;fill:#231f20">Overall Survival (%)</text>
<text x="227.4" y="710.2" style="font-size:17.5px;fill:#231f20" textLength="59.6" lengthAdjust="spacingAndGlyphs">Months</text>
<text x="376.6" y="470.6" style="font-size:12.8px;fill:#231f20" textLength="54.4" lengthAdjust="spacingAndGlyphs"><tspan font-style="italic">P</tspan> = .0294</text>
<text x="224.0" y="574.5" class="cl" textLength="27.2" lengthAdjust="spacingAndGlyphs">TET2</text>
<text x="254.8" y="574.5" class="cl" textLength="128.6" lengthAdjust="spacingAndGlyphs">wild-type AML (n=85)</text>
<text x="177.2" y="648.0" class="cl" textLength="27.4" lengthAdjust="spacingAndGlyphs">TET2</text>
<text x="208.8" y="648.0" class="cl" textLength="107.0" lengthAdjust="spacingAndGlyphs">mutant AML (n=8)</text>
</svg>
</body></html>
